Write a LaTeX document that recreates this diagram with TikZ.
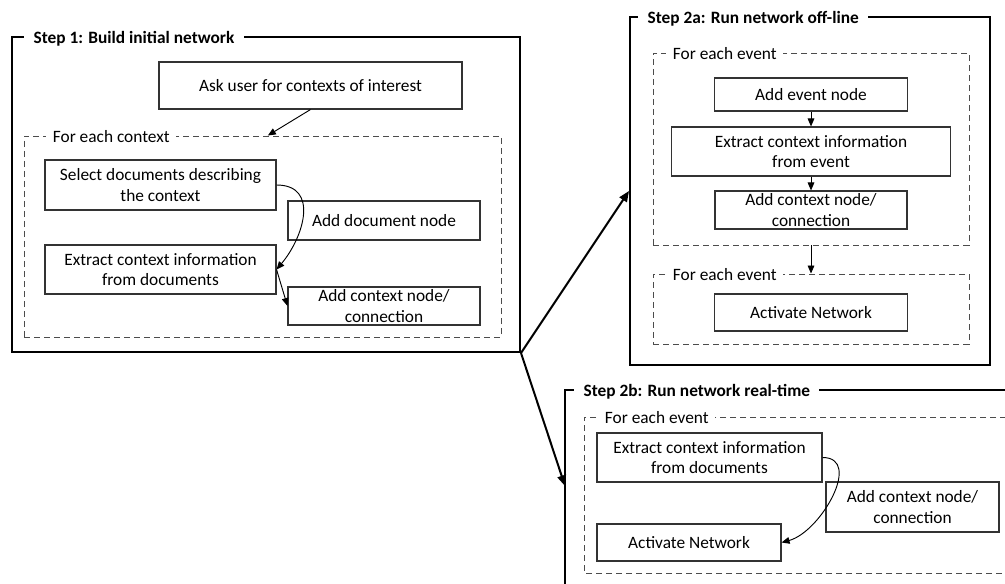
\documentclass[tikz,border=0pt]{standalone}
\usepackage{fontspec}
\setmainfont{Carlito}
\usetikzlibrary{arrows.meta}

\tikzset{
  procbox/.style={draw=black!80, line width=0.8pt, align=center, inner sep=0pt,
    font=\fontsize{13}{15.5}\selectfont},
  loopbox/.style={draw=black!70, line width=0.7pt, dash pattern=on 4.5pt off 3pt, inner sep=0pt},
  looplabel/.style={fill=white, anchor=west, inner xsep=5pt, inner ysep=1pt,
    font=\fontsize{13}{15}\selectfont},
  stepframe/.style={draw=black, line width=1.5pt, inner sep=0pt},
  steplabel/.style={fill=white, anchor=west, inner xsep=7pt, inner ysep=1pt,
    font=\fontsize{13}{15}\selectfont\bfseries},
  flow/.style={-{Triangle[length=6pt,width=5pt]}, line width=0.7pt},
  bigflow/.style={-{Triangle[length=8pt,width=6.5pt]}, line width=1.5pt},
}

\begin{document}
\begin{tikzpicture}[x=0.75pt, y=-0.75pt]
\useasboundingbox (0,0) rectangle (1005,584);

% step 1
\node[stepframe, minimum width=381pt, minimum height=236.25pt] (step1) at (266,194.5) {};
\node[steplabel] (step1title) at (24,39) {Step 1: Build initial network};
\node[procbox, minimum width=227.25pt, minimum height=35.25pt] (ask) at (310.5,85.5)
  {Ask user for contexts of interest};
\node[loopbox, minimum width=357.75pt, minimum height=150.75pt] (ctxloop) at (262.5,236.5) {};
\node[looplabel] (ctxlabel) at (46,137) {For each context};
\node[procbox, minimum width=173.25pt, minimum height=37.5pt] (select) at (160.5,185)
  {Select documents describing\\the context};
\node[procbox, minimum width=144pt, minimum height=29.25pt] (adddoc) at (384,220.5)
  {Add document node};
\node[procbox, minimum width=173.25pt, minimum height=36.75pt] (extractdoc) at (160.5,269.5)
  {Extract context information\\from documents};
\node[procbox, minimum width=144pt, minimum height=28.5pt] (addctx) at (384,306)
  {Add context node/\\connection};
\draw[flow] (ask.south) -- ([xshift=4pt]ctxloop.north);
\draw[flow] (select.east) to[out=0, in=50, looseness=1.3] (extractdoc.east);
\draw[flow] (extractdoc.east) -- (addctx.west);

% step 2a
\node[stepframe, minimum width=270pt, minimum height=261pt] (step2a) at (810,191) {};
\node[steplabel] (step2atitle) at (638,19) {Step 2a: Run network off-line};
\node[loopbox, minimum width=237pt, minimum height=144pt] (eventloop) at (811,149) {};
\node[looplabel] (eventlabel) at (666,54) {For each event};
\node[procbox, minimum width=144.75pt, minimum height=24.75pt] (addevent) at (811,94.5)
  {Add event node};
\node[procbox, minimum width=209.25pt, minimum height=36.75pt] (extractevent) at (811,151.5)
  {Extract context information\\from event};
\node[procbox, minimum width=144pt, minimum height=28.5pt] (addctxa) at (811,210)
  {Add context node/\\connection};
\node[loopbox, minimum width=237pt, minimum height=52.5pt] (activeloop) at (811,309) {};
\node[looplabel] (activelabel) at (666,275) {For each event};
\node[procbox, minimum width=144.75pt, minimum height=27.75pt] (activatea) at (811,312.5)
  {Activate Network};
\draw[flow] (addevent.south) -- (extractevent.north);
\draw[flow] (extractevent.south) -- (addctxa.north);
\draw[flow] (eventloop.south) -- (activeloop.north);

% step 2b (runs off the page)
\coordinate (step2b) at (565,390);
\coordinate (rtloop) at (584,417);
\draw[line width=1.5pt] (1006,390) -- (step2b) -- (565,586);
\node[steplabel] (step2btitle) at (574,392) {Step 2b: Run network real-time};
\draw[draw=black!70, line width=0.7pt, dash pattern=on 4.5pt off 3pt]
  (1006,417) -- (rtloop) -- (584,573) -- (1006,573);
\node[looplabel] (rtlabel) at (598,418) {For each event};
\node[procbox, minimum width=168.75pt, minimum height=36.75pt] (extractrt) at (709.5,457.5)
  {Extract context information\\from documents};
\node[procbox, minimum width=129.75pt, minimum height=37.5pt] (addctxrt) at (912.5,507)
  {Add context node/\\connection};
\node[procbox, minimum width=138pt, minimum height=27.75pt] (activatert) at (689,542.5)
  {Activate Network};
\draw[flow] (extractrt.east) to[out=0, in=15, looseness=1.1] (activatert.east);

% between the steps
\coordinate (step2bentry) at (565,486);
\draw[bigflow] (step1.south east) -- (step2a.west);
\draw[bigflow] (step1.south east) -- (step2bentry);
\end{tikzpicture}
\end{document}
